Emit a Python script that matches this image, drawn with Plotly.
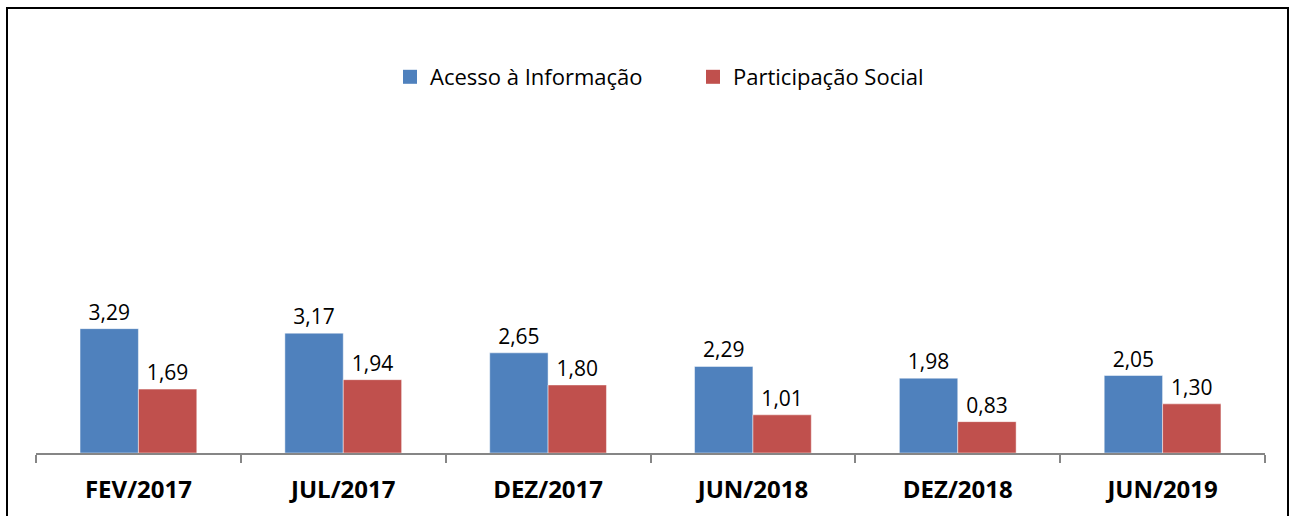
import plotly.graph_objects as go

categories = ["FEV/2017", "JUL/2017", "DEZ/2017", "JUN/2018", "DEZ/2018", "JUN/2019"]
acesso = [3.29, 3.17, 2.65, 2.29, 1.98, 2.05]
participacao = [1.69, 1.94, 1.80, 1.01, 0.83, 1.30]
series_names = ["Acesso à Informação", "Participação Social"]
colors = ["#4F81BD", "#C0504D"]

def fmt(v):
    return f"{v:.2f}".replace(".", ",")

W, H = 1291, 516
L, R, T, B = 36, 26, 114, 63
plot_w = W - L - R
plot_h = H - T - B

fig = go.Figure()
for name, vals, col in zip(series_names, [acesso, participacao], colors):
    fig.add_trace(go.Bar(
        x=categories, y=vals, name=name, showlegend=False, legendgroup=name,
        marker=dict(color=col, line=dict(color="rgba(255,255,255,0.6)", width=0.8)),
        text=[fmt(v) for v in vals], textposition="outside",
        textfont=dict(family="Open Sans", size=21, color="#000000"),
        cliponaxis=False,
    ))
# legend entries with larger square symbols
for name, col in zip(series_names, colors):
    fig.add_trace(go.Scatter(
        x=[None], y=[None], mode="markers", name=name, legendgroup=name,
        marker=dict(symbol="square", size=14, color=col),
    ))

def px_x(x):
    return (x - L) / plot_w

def px_y(y):
    return (H - B - y) / plot_h

fig.update_layout(
    width=W, height=H,
    margin=dict(l=L, r=R, t=T, b=B, pad=0),
    paper_bgcolor="white", plot_bgcolor="white",
    barmode="group", bargap=0.43, bargroupgap=0,
    showlegend=True,
    legend=dict(orientation="h", x=px_x(390), y=px_y(77), xanchor="left", yanchor="middle",
                font=dict(family="Open Sans", size=22, color="#000000"),
                entrywidth=258, entrywidthmode="pixels", itemsizing="trace"),
    font=dict(family="Open Sans", size=20, color="#000000"),
    xaxis=dict(showline=True, linecolor="#868686", linewidth=1.5,
               ticks="outside", ticklen=8, tickcolor="#868686", tickwidth=1.5,
               tickson="boundaries", showgrid=False,
               tickfont=dict(family="Open Sans", size=24, color="#000000", weight="bold"),
               ticklabelstandoff=14),
    yaxis=dict(range=[0, plot_h / 37.8], visible=False, showgrid=False, zeroline=False),
    shapes=[
        dict(type="rect", xref="paper", yref="paper",
             x0=px_x(7), x1=px_x(1288), y0=px_y(540), y1=px_y(8),
             line=dict(color="#000000", width=2), fillcolor="rgba(0,0,0,0)", layer="below"),
    ],
)

fig.write_html("out.html", config={"displayModeBar": False},
               post_script="document.body.style.margin='0px';document.body.style.padding='0px';")
